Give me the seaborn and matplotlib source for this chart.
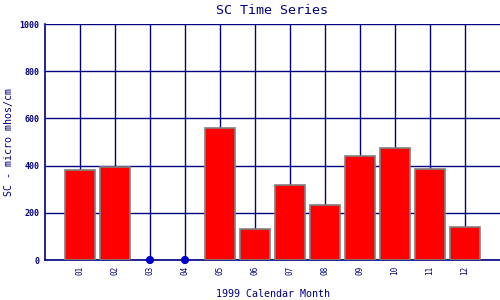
import numpy as np
import pandas as pd
import matplotlib
matplotlib.use("Agg")
import matplotlib.pyplot as plt
import seaborn as sns

months = ["01", "02", "03", "04", "05", "06", "07", "08", "09", "10", "11", "12"]
sc_values = [380, 395, np.nan, np.nan, 559, 130, 318, 232, 439, 474, 384, 138]
missing_months = ["03", "04"]
missing_values = [0, 0]
y_ticks = [0, 200, 400, 600, 800, 1000]

NAVY = "#000080"
sns.set_style("white")
plt.rcParams["font.family"] = ["DejaVu Sans Mono", "DejaVu Sans"]

fig = plt.figure(figsize=(5, 3), dpi=100)
ax = fig.add_axes([0.09, 40 / 300, 0.91, 236 / 300])

df = pd.DataFrame({"month": months, "sc": sc_values})
sns.barplot(data=df, x="month", y="sc", order=months, color="#ff0000",
            saturation=1, width=0.88, edgecolor="#808080", linewidth=1.2,
            ax=ax, zorder=3)
dfm = pd.DataFrame({"month": missing_months, "sc": missing_values})
sns.scatterplot(data=dfm, x="month", y="sc", color="#0000cc", s=35,
                edgecolor="none", ax=ax, zorder=4, clip_on=False)

ax.set_xlim(-1, 12)
ax.set_ylim(0, 1000)
ax.set_yticks(y_ticks)
ax.set_yticklabels([str(v) for v in y_ticks], fontsize=6, fontweight="bold", color=NAVY)
ax.set_xticks(range(len(months)))
ax.set_xticklabels(months, rotation=90, fontsize=5.5, color=NAVY)
ax.tick_params(length=0, pad=4)
ax.grid(True, color=NAVY, linewidth=1.0, zorder=0)
ax.set_axisbelow(True)
for s in ["left", "bottom"]:
    ax.spines[s].set_color(NAVY)
    ax.spines[s].set_linewidth(1.2)
for s in ["top", "right"]:
    ax.spines[s].set_visible(False)

ax.set_xlabel("1999 Calendar Month", fontsize=7.2, color=NAVY, labelpad=10)
ax.set_ylabel("SC - micro mhos/cm", fontsize=7.2, color=NAVY)
ax.yaxis.set_label_coords(-31 / 455, 0.5)
ax.set_title("SC Time Series", fontsize=9.6, color=NAVY, pad=7)

fig.savefig("out.png", dpi=100)
